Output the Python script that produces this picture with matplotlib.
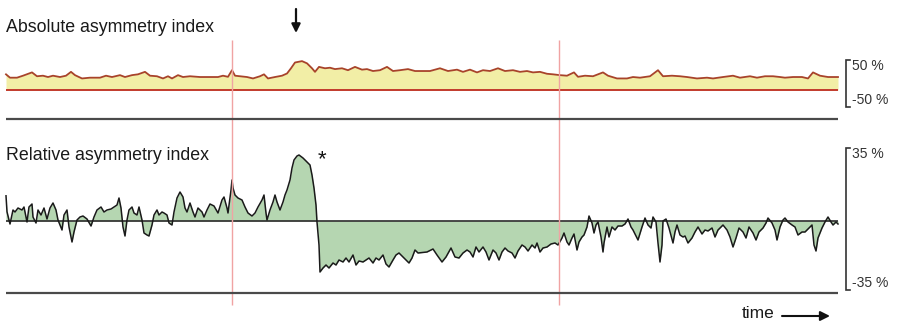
import matplotlib
matplotlib.use("Agg")
import matplotlib.pyplot as plt
import numpy as np

plt.rcParams['font.family'] = ['Liberation Sans', 'DejaVu Sans']

# ---------------- data ----------------
# Absolute asymmetry index (%), sampled over time (arbitrary units)
abs_time = [0, 4, 11, 17, 26, 31, 37, 42, 47, 54,
            60, 65, 69, 76, 84, 94, 100, 106, 114, 119,
            126, 132, 139, 144, 151, 157, 162, 166, 172, 177,
            184, 194, 204, 212, 217, 222, 226, 229, 234, 241,
            247, 254, 258, 262, 269, 276, 281, 285, 289, 296,
            301, 306, 309, 313, 319, 324, 329, 336, 342, 349,
            356, 361, 367, 374, 381, 387, 394, 402, 409, 414,
            424, 434, 442, 451, 457, 464, 471, 477, 484, 492,
            499, 507, 514, 521, 527, 534, 541, 547, 554, 561,
            568, 572, 579, 587, 597, 602, 611, 621, 627, 634,
            644, 652, 657, 666, 674, 681, 691, 701, 707, 717,
            727, 734, 744, 751, 759, 767, 774, 779, 787, 796,
            802, 807, 814, 822, 832]
abs_index = [28.5, 22.4, 22.4, 26, 32, 25, 26, 23.6, 26, 23.6,
             26, 33, 27, 21, 22.4, 22.4, 26, 23.6, 27, 23.6,
             27, 28.5, 33, 26, 25, 21, 25, 21, 27, 23.6,
             25, 23.6, 23.6, 23.6, 26, 24, 36, 26, 25, 23.6,
             21, 25, 28.5, 21, 23.6, 26, 30, 39.5, 50, 52.5,
             48.5, 39.5, 33, 42, 39.5, 40.5, 38, 39.5, 36, 42,
             37, 38, 34.5, 36, 42, 34.5, 36, 38, 34.5, 34.5,
             34.5, 39.5, 34.5, 37, 33, 37, 32, 36, 34.5, 39.5,
             34.5, 36, 33, 34.5, 32, 33, 29.5, 28.5, 27, 26,
             32, 24, 26, 25, 32, 26, 21, 21, 23.6, 22.4,
             25, 36, 25, 26, 25, 23.6, 21, 22.4, 21, 23.6,
             26, 22.4, 25, 22.4, 25, 25, 23.6, 22.4, 23.6, 23.6,
             21, 32, 26, 23.6, 23.6]

# Relative asymmetry index (%), sampled over time
rel_time = [0, 1, 4, 7, 9, 12, 16, 18, 21, 23,
            26, 27, 30, 32, 35, 38, 41, 44, 47, 50,
            52, 56, 58, 61, 63, 66, 68, 71, 74, 77,
            81, 85, 88, 91, 95, 98, 101, 105, 108, 111,
            113, 115, 117, 119, 121, 123, 126, 128, 131, 133,
            136, 138, 141, 143, 146, 148, 151, 153, 156, 158,
            161, 163, 166, 168, 171, 174, 177, 179, 181, 184,
            187, 189, 192, 196, 198, 201, 204,
            208, 212, 216, 218, 221, 222, 225, 226, 227, 229,
            232, 236, 239, 242, 246, 249, 252, 256, 258, 260,
            261, 264, 267, 269, 271, 274, 277, 279, 281, 284,
            286, 288, 291, 293, 297, 301, 304, 306, 308, 310,
            311, 313, 314, 317, 320, 323, 327, 330, 333, 337,
            340, 343, 347, 350, 353, 357, 360, 363, 367, 370,
            373, 377, 380, 383, 387, 390, 393, 397, 400, 403,
            406, 409, 412,
            421, 427, 431, 436, 440, 445, 449, 453, 457, 461,
            464, 467, 470, 473, 477, 480, 483, 487, 490, 493,
            496, 499, 502, 506, 509, 512, 516, 519, 522, 526,
            529, 531, 534, 537, 541, 545, 549, 552, 556, 558,
            561, 563, 566, 568, 571, 573, 576, 578, 581, 583,
            586, 588, 590, 592, 595, 597, 598, 601, 603, 606,
            609, 612, 616, 619, 622, 625,
            627, 632, 636, 639, 642, 645, 647, 650, 652, 654,
            656, 657, 660, 663, 667, 669, 671, 674, 677, 679,
            682, 686, 689, 692, 696, 699, 702, 706, 709, 712,
            717, 721, 724, 727, 730, 733, 737, 740, 743, 747,
            750, 753, 757, 760, 762, 766, 769, 771, 774, 777,
            779, 782, 786, 789, 792, 796, 799, 802, 806, 808,
            810, 812, 816, 819, 822, 825, 827, 830, 832]
rel_index = [12.6, 4.6, -1.5, 5.5, 4.5, 6.5, 5.5, 7, -0.5, 7,
             8.5, 2, -1, 5.5, 3, 6.5, 1, 6.5, 9, 5.5,
             0.5, -4.5, 3, 5.5, -3, -10.5, -5.5, 0.5, 2, 2.5,
             1, -2.5, 2, 5.5, 7, 4.5, 5.5, 6, 7, 8,
             11.5, 6.5, -3, -7.5, 0.5, 5.5, 7, 4, 3, 7,
             0.5, -6, -7, -7.5, -2, 3, 5.5, 3, 4.5, 4,
             3, -1, -2, 4.5, 11.5, 14.5, 12, 6.5, 4.5, 9,
             4.5, 2, 6.5, 4.5, 2, 5.5, 8.5,
             7.5, 4, 10.5, 12, 6.5, 4, 15.5, 20.5, 16.5, 13,
             11.5, 10.5, 7, 4, 2.5, 4, 7, 10.5, 13, 4,
             0.5, 5.5, 9.5, 13, 9.5, 5.5, 9.5, 13, 15.5, 20.5,
             26.5, 30.5, 32.5, 33, 31.5, 29.5, 28, 23, 16.5, 8,
             -0.5, -12, -25.5, -23.5, -22, -23.5, -21, -22, -19.5, -20.5,
             -18.5, -20.5, -17, -22, -20, -20.5, -19.5, -18.5, -21, -18.5,
             -19.5, -17, -21.5, -23, -19.5, -17, -16, -18, -19.5, -21,
             -18.5, -14.5, -16,
             -15.5, -14, -17, -20.5, -18, -13.5, -18, -18.5, -16, -14.5,
             -15.5, -18, -13, -15.5, -13, -15.5, -19.5, -14.5, -16, -19.5,
             -15.5, -13.5, -15, -16, -18.5, -15, -12, -13, -15, -12,
             -13.5, -11, -15.5, -13.5, -13, -11.5, -11, -12, -8.5, -6,
             -10.5, -12, -8.5, -6.5, -14.5, -10.5, -8, -7, -3, 2.5,
             -1, -6, -2, -0.5, -8, -15.5, -11, -3, -8, -3,
             -4.5, -2.5, -2.5, -1.5, 1, -3,
             -4.5, -9.5, -3, 1.5, -2, -3.5, 2, -0.5, -11, -20.5,
             -12, 0, 1, -3.5, -11, -5.5, -2, -7, -8, -7.5,
             -11, -8.5, -5.5, -3, -6.5, -4.5, -5, -3.5, -8, -4.5,
             -2, -4.5, -8, -13, -8.5, -3.5, -5.5, -8.5, -3, -6,
             -9.5, -5.5, -3.5, -1, 1.5, -1, -4.5, -9.5, -3, 0.5,
             1.5, -0.5, -2, -3, -7, -5.5, -5.5, -4, -2, -12,
             -15, -8.5, -3.5, -0.5, 2, -0.5, -2, -0.5, -1.5]

# Event markers (time) and annotations
event_times = [226, 553]
arrow_time = 290
star_time = 316
t_end = 832

abs_scale_labels = ["50 %", "-50 %"]
rel_scale_labels = ["35 %", "-35 %"]

# ---------------- figure ----------------
W, H = 897, 325
DPI = 100
fig = plt.figure(figsize=(W / DPI, H / DPI), dpi=DPI)
fig.patch.set_facecolor('white')

X0 = 6  # left margin (pixels) where time 0 sits
xlim = (-X0, W - X0)

# Absolute index panel (baseline at y=90 px, 0.55 px per %)
ax_abs = fig.add_axes([0, 0, 1, 1])
ax_abs.set_xlim(*xlim)
ax_abs.set_ylim(-(H - 90) / 0.55, 90 / 0.55)
ax_abs.axis('off')
ax_abs.fill_between(abs_time, 0, abs_index, color='#f2eea6', lw=0)
ax_abs.plot(abs_time, abs_index, color='#a8432a', lw=1.3)
ax_abs.hlines(0, 0, t_end, color='#c23a2c', lw=1.4)

# Relative index panel (zero at y=221 px, 2 px per %)
ax_rel = fig.add_axes([0, 0, 1, 1])
ax_rel.set_xlim(*xlim)
ax_rel.set_ylim(-(H - 221) / 2.0, 221 / 2.0)
ax_rel.axis('off')
ax_rel.fill_between(rel_time, 0, rel_index, color='#b5d6b1', lw=0)
ax_rel.hlines(0, 0, t_end, color='#2b2b2b', lw=1.2)
ax_rel.plot(rel_time, rel_index, color='#1a1a1a', lw=1.1)

# Overlay for separators, markers, scale brackets and labels (y in pixels)
ov = fig.add_axes([0, 0, 1, 1])
ov.set_xlim(*xlim)
ov.set_ylim(H, 0)
ov.axis('off')
ov.patch.set_alpha(0)

for t in event_times:
    ov.vlines(t, 40, 305, color='#f0a3a3', lw=1.0, zorder=0)

ov.hlines([119, 293], 0, t_end, color='#4a4a4a', lw=1.6)

txt_kw = dict(fontsize=12.8, color='#1a1a1a', va='center', ha='left')
ov.text(0, 27, "Absolute asymmetry index", **txt_kw)
ov.text(0, 156, "Relative asymmetry index", **txt_kw)

ov.annotate("", xy=(arrow_time, 33), xytext=(arrow_time, 9),
            arrowprops=dict(arrowstyle='-|>', color='#111111', lw=1.6,
                            mutation_scale=13, shrinkA=0, shrinkB=0))
ov.text(star_time, 160, "*", fontsize=16, ha='center', va='center',
        color='#111111')

# scale brackets
bx = 840
for (y0, y1), labels in [((60, 107), abs_scale_labels),
                         ((148, 290), rel_scale_labels)]:
    ov.plot([bx + 4, bx, bx, bx + 4], [y0, y0, y1, y1],
            color='#333333', lw=1.2, solid_joinstyle='miter')
    lab_kw = dict(fontsize=10, color='#333333', va='center', ha='left',
                  family=['Liberation Sans Narrow', 'Liberation Sans'])
    ov.text(bx + 6, y0 + 6, labels[0], **lab_kw)
    ov.text(bx + 6, y1 - 7, labels[1], **lab_kw)

# time arrow
ov.text(736, 313, "time", fontsize=12.5, color='#1a1a1a', va='center',
        ha='left')
ov.annotate("", xy=(824, 316), xytext=(776, 316),
            arrowprops=dict(arrowstyle='-|>', color='#111111', lw=1.5,
                            mutation_scale=14, shrinkA=0, shrinkB=0))

fig.savefig('out.png', dpi=DPI, facecolor='white')
